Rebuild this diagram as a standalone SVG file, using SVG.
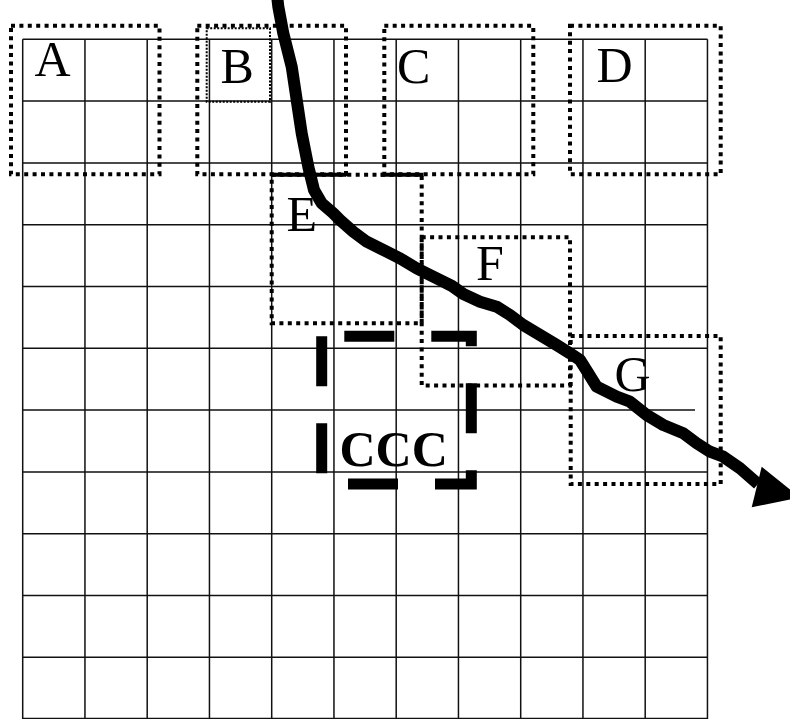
<svg xmlns="http://www.w3.org/2000/svg" width="790" height="719" viewBox="0 0 790 719">
<style>
.grid{fill:none;stroke:#111;stroke-width:1.5}
.dot{fill:none;stroke:#000;stroke-width:4;stroke-dasharray:4 4.4}
.fine{fill:none;stroke:#000;stroke-width:2;stroke-dasharray:2 1.5}
.solid{fill:none;stroke:#000;stroke-width:4}
.lbl{font-family:"Liberation Serif","Times New Roman",serif;font-size:50px;fill:#000}
.ccc{font-family:"Liberation Serif","Times New Roman",serif;font-size:50px;font-weight:bold;fill:#000}
.dash{fill:none;stroke:#000;stroke-width:11;stroke-dasharray:50 37}
.arrow{fill:none;stroke:#000;stroke-width:12;stroke-linejoin:round;stroke-linecap:butt}
</style>
<rect width="790" height="719" fill="#fff"/>
<g id="grid">
<path class="grid" d="M22.7,39.3V719 M84.95,39.3V719 M147.2,39.3V719 M209.45,39.3V719 M271.7,39.3V719 M333.95,39.3V719 M396.2,39.3V719 M458.45,39.3V719 M520.7,39.3V719 M582.95,39.3V719 M645.2,39.3V719 M707.45,39.3V719 M22.7,39.3H707.45 M22.7,101.1H707.45 M22.7,162.9H707.45 M22.7,224.7H707.45 M22.7,286.5H707.45 M22.7,348.3H707.45 M22.7,410.1H695 M22.7,471.9H707.45 M22.7,533.7H707.45 M22.7,595.5H707.45 M22.7,657.3H707.45 M22.7,718.6H707.45"/>
</g>
<g id="node-A">
<rect class="dot" x="11" y="25.7" width="148.5" height="148.6"/>
<text class="lbl" x="34.5" y="76">A</text>
</g>
<g id="node-B">
<rect class="dot" x="197.3" y="25.7" width="148.7" height="148.6"/>
<rect class="fine" x="206.7" y="28.3" width="63.3" height="73.4"/>
<text class="lbl" x="220.5" y="83">B</text>
</g>
<g id="node-C">
<rect class="dot" x="384.3" y="25.7" width="149" height="148.6"/>
<text class="lbl" x="397" y="82.5">C</text>
</g>
<g id="node-D">
<rect class="dot" x="570" y="25.7" width="150.7" height="148.6"/>
<text class="lbl" x="596.5" y="82">D</text>
</g>
<g id="node-E">
<rect class="dot" x="271.7" y="174.8" width="150" height="148.5"/>
<path class="solid" d="M271.7,174.8H346 M380.5,174.8H423.5"/>
<text class="lbl" x="286.5" y="231">E</text>
</g>
<g id="node-F">
<rect class="dot" x="421.7" y="237.3" width="148.3" height="148.2"/>
<text class="lbl" x="476" y="280">F</text>
</g>
<g id="node-G">
<rect class="dot" x="570.7" y="336" width="150" height="148"/>
<text class="lbl" x="614.5" y="390.5">G</text>
</g>
<g id="node-CCC">
<path class="dash" d="M321.7,336.3V484H471.3V336.3Z"/>
<text class="ccc" x="339.5" y="465.5">CCC</text>
</g>
<g id="connectors">
<path class="arrow" d="M277,-5 L278.3,6.7 L283.3,33.3 L291.7,66.7 L296.7,100 L301.7,133.3 L308.3,166.7 L314,190 L321.7,203.3 L333.3,213.3 L340,220 L353.3,231.7 L366.7,241.7 L386.7,251.7 L400,258.3 L416.7,268.3 L426.7,273.3 L443.3,281.7 L452,286 L463.3,294 L480,301.7 L496.7,306.7 L510,315 L523.3,325 L540,335 L556.7,345 L570,353.3 L580,360 L588.3,373.3 L596.7,386.7 L616.7,396.7 L630,401.7 L646.7,415 L663.3,425 L683.3,433.3 L696.7,443.3 L710,451.7 L723.3,456.7 L740,468.3 L758,484"/>
<polygon points="761.7,466.7 751.7,507.3 800,497.5" fill="#000"/>
</g>
</svg>
